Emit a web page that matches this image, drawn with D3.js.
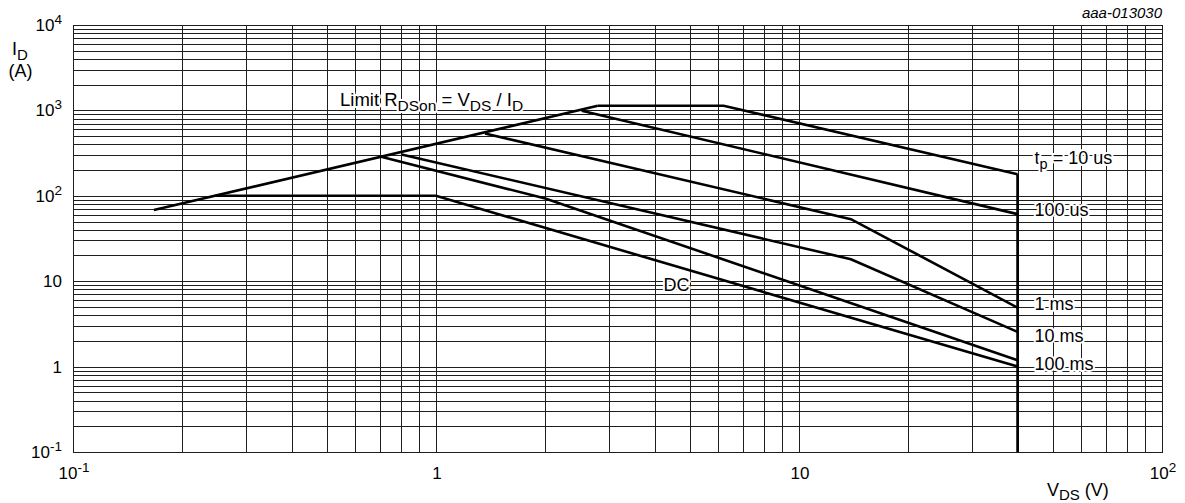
<!doctype html>
<html lang="en">
  <head>
    <title>Safe operating area</title>
    <style>
      body {
        margin: 0;
        background: #fff;
      }

      svg text {
        font-family: "Liberation Sans", Arial, sans-serif;
        fill: #000;
      }

      .grid line {
        stroke: #1e1e1e;
        stroke-width: 1;
        shape-rendering: crispEdges;
      }

      .grid path {
        display: none;
      }

      .curve {
        fill: none;
        stroke: #000;
        stroke-width: 2.6;
        stroke-linejoin: miter;
      }

      .halo {
        stroke: #fff;
        stroke-width: 4;
        paint-order: stroke;
        stroke-linejoin: round;
      }
    </style>
  </head>
  <body>
    <div id="chart"></div>

    <script src="https://d3js.org/d3.v7.min.js"></script>
    <script>
      // axis ticks: [base, exponent]
      const xTicks = [0.1, 1, 10, 100]
      const xTickLabels = [['10', '-1'], ['1', ''], ['10', ''], ['10', '2']]
      const yTicks = [0.1, 1, 10, 100, 1000, 10000]
      const yTickLabels = [['10', '-1'], ['1', ''], ['10', ''], ['10', '2'], ['10', '3'], ['10', '4']]

      // curves, [V_DS (V), I_D (A)]
      const limitRdson = [[0.167, 68], [2.79, 1133]]
      const tp10us = [[2.79, 1133], [6.2, 1133], [40, 179]]
      const tp100us = [[2.52, 991], [40, 61]]
      const tp1ms = [[1.365, 537], [13.9, 53.3], [40, 4.9]]
      const tp10ms = [[0.804, 305], [13.9, 18.1], [40, 2.55]]
      const tp100ms = [[0.706, 286], [2.0, 93], [40, 1.19]]
      const dc = [[0.247, 100], [1, 100], [40, 1.0]]
      const vdsMax = [[40, 179], [40, 0.1]]

      const curveNames = ['10 us', '100 us', '1 ms', '10 ms', '100 ms', 'DC']

      const W = 1185
      const H = 503
      const margin = { top: 25, right: 23, bottom: 51, left: 73 }
      const width = W - margin.left - margin.right
      const height = H - margin.top - margin.bottom

      const svg = d3.select('#chart')
        .append('svg')
          .attr('width', W)
          .attr('height', H)

      const g = svg.append('g')
        .attr('transform', `translate(${margin.left}, ${margin.top})`)

      const x = d3.scaleLog()
        .domain([0.1, 100])
        .range([0, width])

      const y = d3.scaleLog()
        .domain([0.1, 10000])
        .range([height, 0])

      // grid (every 1..9 of each decade)
      g.append('g')
        .attr('class', 'grid')
        .attr('transform', `translate(0, ${height})`)
        .call(d3.axisBottom(x).tickValues(x.ticks()).tickSize(-height).tickFormat(''))

      g.append('g')
        .attr('class', 'grid')
        .call(d3.axisLeft(y).tickValues(y.ticks()).tickSize(-width).tickFormat(''))

      g.append('rect')
        .attr('width', width)
        .attr('height', height)
        .attr('fill', 'none')
        .attr('stroke', '#1e1e1e')
        .attr('shape-rendering', 'crispEdges')

      // tick labels
      function powerLabel(sel, parts) {
        sel.append('tspan').text(parts[0])
        if (parts[1]) {
          sel.append('tspan')
            .attr('dy', -7)
            .attr('font-size', 13.5)
            .text(parts[1])
        }
      }

      xTicks.forEach((v, i) => {
        const t = g.append('text')
          .attr('x', x(v) + 1)
          .attr('y', height + 27)
          .attr('text-anchor', 'middle')
          .attr('font-size', 17)
        powerLabel(t, xTickLabels[i])
      })

      yTicks.forEach((v, i) => {
        const t = g.append('text')
          .attr('x', -11)
          .attr('y', y(v) + 6)
          .attr('text-anchor', 'end')
          .attr('font-size', 17)
        powerLabel(t, yTickLabels[i])
      })

      // curves
      const line = d3.line()
        .x(d => x(d[0]))
        .y(d => y(d[1]))

      const curves = [limitRdson, tp10us, tp100us, tp1ms, tp10ms, tp100ms, dc]
      g.selectAll('path.curve')
        .data(curves)
        .enter()
          .append('path')
            .attr('class', 'curve')
            .attr('d', line)

      g.append('path')
        .attr('class', 'curve')
        .attr('stroke-width', 3)
        .attr('d', line(vdsMax))

      // curve labels, placed in data units
      const labelSpots = [
        { v: 40, i: 276 },
        { v: 40, i: 68 },
        { v: 40, i: 5.4 },
        { v: 40, i: 2.26 },
        { v: 40, i: 1.06 },
      ]

      curveNames.slice(0, 5).forEach((name, k) => {
        const s = labelSpots[k]
        const t = g.append('text')
          .attr('class', 'halo')
          .attr('x', x(s.v) + 17)
          .attr('y', y(s.i) + 6)
          .attr('font-size', 18)
        if (k === 0) {
          t.append('tspan').text('t')
          t.append('tspan').attr('dy', 5).attr('font-size', 14.5).text('p')
          t.append('tspan').attr('dy', -5).text(' = ' + name)
        } else {
          t.text(name)
        }
      })

      g.append('text')
        .attr('class', 'halo')
        .attr('x', x(4.6))
        .attr('y', y(9) + 6)
        .attr('text-anchor', 'middle')
        .attr('font-size', 18)
        .text(curveNames[5])

      // R_DSon limit label
      const lim = g.append('text')
        .attr('class', 'halo')
        .attr('x', x(0.544))
        .attr('y', y(1125))
        .attr('font-size', 18.5)
      lim.append('tspan').text('Limit R')
      lim.append('tspan').attr('dy', 5).attr('font-size', 15.5).text('DSon')
      lim.append('tspan').attr('dy', -5).text(' = V')
      lim.append('tspan').attr('dy', 5).attr('font-size', 15.5).text('DS')
      lim.append('tspan').attr('dy', -5).text(' / I')
      lim.append('tspan').attr('dy', 5).attr('font-size', 15.5).text('D')

      // axis titles
      const yt = svg.append('text')
        .attr('x', 12)
        .attr('y', 55)
        .attr('font-size', 18)
      yt.append('tspan').text('I')
      yt.append('tspan').attr('dy', 5).attr('font-size', 15).text('D')

      svg.append('text')
        .attr('x', 20.5)
        .attr('y', 77)
        .attr('text-anchor', 'middle')
        .attr('font-size', 18)
        .text('(A)')

      const xt = svg.append('text')
        .attr('x', 1047)
        .attr('y', 496)
        .attr('font-size', 18)
      xt.append('tspan').text('V')
      xt.append('tspan').attr('dy', 4).attr('font-size', 15).text('DS')
      xt.append('tspan').attr('dy', -4).text(' (V)')

      svg.append('text')
        .attr('x', margin.left + width)
        .attr('y', 18)
        .attr('text-anchor', 'end')
        .attr('font-size', 15)
        .attr('font-style', 'italic')
        .text('aaa-013030')
    </script>
  </body>
</html>
